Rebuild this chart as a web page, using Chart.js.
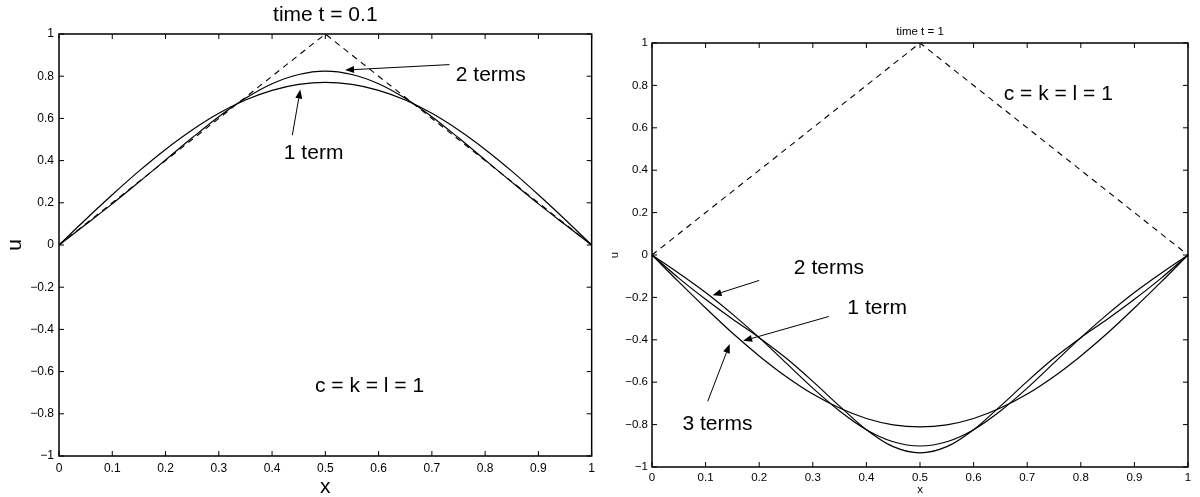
<!DOCTYPE html>
<html><head><meta charset="utf-8">
<script src="https://cdn.jsdelivr.net/npm/chart.js@4.4.1/dist/chart.umd.min.js"></script>
<style>
html,body{margin:0;padding:0;background:#fff;}
#wrap{position:relative;width:1200px;height:497px;overflow:hidden;background:#fff;}
.c{position:absolute;top:0;width:600px;height:497px;}
</style></head><body>
<div id="wrap">
<div class="c" style="left:0"><canvas id="left" width="600" height="497"></canvas></div>
<div class="c" style="left:600px"><canvas id="right" width="600" height="497"></canvas></div>
</div>
<script>
// ---- data ----
const xs = [0,0.05,0.1,0.15,0.2,0.25,0.3,0.35,0.4,0.45,0.5,0.55,0.6,0.65,0.7,0.75,0.8,0.85,0.9,0.95,1];
const triX = [0,0.5,1];
const triY = [0,1,0];
// left panel, t = 0.1
const left1 = [0,0.121,0.238,0.350,0.453,0.545,0.624,0.687,0.733,0.761,0.771,0.761,0.733,0.687,0.624,0.545,0.453,0.350,0.238,0.121,0];
const left2 = [0,0.097,0.195,0.298,0.403,0.508,0.608,0.695,0.764,0.808,0.824,0.808,0.764,0.695,0.608,0.508,0.403,0.298,0.195,0.097,0];
// right panel, t = 1
const right1 = [0,-0.127,-0.250,-0.368,-0.476,-0.573,-0.656,-0.722,-0.771,-0.801,-0.811,-0.801,-0.771,-0.722,-0.656,-0.573,-0.476,-0.368,-0.250,-0.127,0];
const right2 = [0,-0.086,-0.177,-0.279,-0.390,-0.509,-0.628,-0.736,-0.824,-0.881,-0.901,-0.881,-0.824,-0.736,-0.628,-0.509,-0.390,-0.279,-0.177,-0.086,0];
const right3 = [0,-0.109,-0.209,-0.302,-0.390,-0.486,-0.596,-0.713,-0.824,-0.904,-0.933,-0.904,-0.824,-0.713,-0.596,-0.486,-0.390,-0.302,-0.209,-0.109,0];
const xTickStep = 0.1;
const yTickStep = 0.2;

const FONT = '"Liberation Sans", Arial, Helvetica, sans-serif';
const pts = (X, Y) => X.map((x, i) => ({x, y: Y[i]}));
const fmt = v => String(Math.round(v * 10) / 10).replace('-', '\u2212');

const decor = {
  id: 'decor',
  afterDatasetsDraw(chart, args, opts) {
    const {ctx, chartArea: {left, right, top, bottom}, scales: {x, y}} = chart;
    const line = (a, b, c, d) => { ctx.beginPath(); ctx.moveTo(a, b); ctx.lineTo(c, d); ctx.stroke(); };
    ctx.save();
    ctx.strokeStyle = '#000';
    ctx.fillStyle = '#000';
    ctx.lineWidth = 1;
    const tl = 5;
    x.ticks.forEach(t => { const p = x.getPixelForValue(t.value); line(p, bottom, p, bottom - tl); line(p, top, p, top + tl); });
    y.ticks.forEach(t => { const p = y.getPixelForValue(t.value); line(left, p, left + tl, p); line(right, p, right - tl, p); });
    ctx.lineWidth = 1.5;
    ctx.strokeRect(left, top, right - left, bottom - top);
    // title centred over the plot area
    ctx.font = opts.titleSize + 'px ' + FONT;
    ctx.textAlign = 'center';
    ctx.textBaseline = 'middle';
    ctx.fillText(opts.title, (left + right) / 2, top - opts.titleGap);
    ctx.font = opts.noteSize + 'px ' + FONT;
    (opts.notes || []).forEach(n => {
      ctx.textAlign = n.align || 'left';
      ctx.fillText(n.text, x.getPixelForValue(n.x), y.getPixelForValue(n.y));
    });
    ctx.lineWidth = 1;
    (opts.arrows || []).forEach(a => {
      const x0 = x.getPixelForValue(a.from[0]), y0 = y.getPixelForValue(a.from[1]);
      const x1 = x.getPixelForValue(a.to[0]), y1 = y.getPixelForValue(a.to[1]);
      const ang = Math.atan2(y1 - y0, x1 - x0);
      const L = 9, W = 3.5;
      const bx = x1 - L * Math.cos(ang), by = y1 - L * Math.sin(ang);
      line(x0, y0, bx, by);
      ctx.beginPath();
      ctx.moveTo(x1, y1);
      ctx.lineTo(bx + W * Math.sin(ang), by - W * Math.cos(ang));
      ctx.lineTo(bx - W * Math.sin(ang), by + W * Math.cos(ang));
      ctx.closePath();
      ctx.fill();
    });
    ctx.restore();
  }
};

function solid(data) {
  return {data, borderColor: '#000', borderWidth: 1.2, pointRadius: 0, cubicInterpolationMode: 'monotone', fill: false};
}
function dashed(data) {
  return {data, borderColor: '#000', borderWidth: 1.1, borderDash: [6, 5], pointRadius: 0, tension: 0, fill: false};
}

function makeChart(id, p) {
  return new Chart(document.getElementById(id), {
    type: 'line',
    data: {datasets: p.datasets},
    plugins: [decor],
    options: {
      responsive: false,
      animation: false,
      events: [],
      layout: {padding: p.pad},
      plugins: {
        legend: {display: false},
        tooltip: {enabled: false},
        title: {display: false},
        decor: {notes: p.notes, arrows: p.arrows, noteSize: p.noteSize, title: p.title, titleSize: p.titleSize, titleGap: p.titleGap}
      },
      scales: {
        x: {type: 'linear', min: 0, max: 1,
            ticks: {stepSize: xTickStep, color: '#000', font: {family: FONT, size: p.tickSize}, padding: p.xTickPad, callback: fmt, maxRotation: 0},
            grid: {display: false, drawTicks: false}, border: {display: false},
            title: {display: true, text: 'x', color: '#000', font: {family: FONT, size: p.labelSize}, padding: p.xTitlePad},
            afterFit: s => { s.height = p.xH; }},
        y: {type: 'linear', min: -1, max: 1,
            ticks: {stepSize: yTickStep, color: '#000', font: {family: FONT, size: p.tickSize}, padding: p.yTickPad, callback: fmt},
            grid: {display: false, drawTicks: false}, border: {display: false},
            title: {display: true, text: 'u', color: '#000', font: {family: FONT, size: p.labelSize}, padding: p.yTitlePad},
            afterFit: s => { s.width = p.yW; }}
      }
    }
  });
}

makeChart('left', {
  datasets: [dashed(pts(triX, triY)), solid(pts(xs, left1)), solid(pts(xs, left2))],
  pad: {left: 0, right: 5, top: 34, bottom: 0},
  title: 'time t = 0.1', titleSize: 21, titleGap: 19,
  tickSize: 12, xTickPad: 5, yTickPad: 5, labelSize: 21,
  xTitlePad: {top: 0, bottom: -3}, yTitlePad: {top: 3, bottom: 0},
  xH: 41, yW: 59, noteSize: 21,
  notes: [
    {text: '2 terms', x: 0.745, y: 0.805},
    {text: '1 term', x: 0.478, y: 0.435, align: 'center'},
    {text: 'c = k = l = 1', x: 0.583, y: -0.67, align: 'center'}
  ],
  arrows: [
    {from: [0.733, 0.855], to: [0.537, 0.829]},
    {from: [0.438, 0.52], to: [0.453, 0.737]}
  ]
});

makeChart('right', {
  datasets: [dashed(pts(triX, triY)), solid(pts(xs, right1)), solid(pts(xs, right2)), solid(pts(xs, right3))],
  pad: {left: 0, right: 12, top: 43, bottom: 0},
  title: 'time t = 1', titleSize: 11.5, titleGap: 11,
  tickSize: 11.5, xTickPad: 3.5, yTickPad: 4, labelSize: 11.5,
  xTitlePad: {top: 0, bottom: 0}, yTitlePad: {top: 8, bottom: 0},
  xH: 30, yW: 52, noteSize: 21,
  notes: [
    {text: 'c = k = l = 1', x: 0.758, y: 0.76, align: 'center'},
    {text: '2 terms', x: 0.33, y: -0.06, align: 'center'},
    {text: '1 term', x: 0.42, y: -0.25, align: 'center'},
    {text: '3 terms', x: 0.122, y: -0.797, align: 'center'}
  ],
  arrows: [
    {from: [0.2, -0.12], to: [0.113, -0.19]},
    {from: [0.33, -0.29], to: [0.17, -0.405]},
    {from: [0.104, -0.69], to: [0.145, -0.42]}
  ]
});
</script>
</body></html>
